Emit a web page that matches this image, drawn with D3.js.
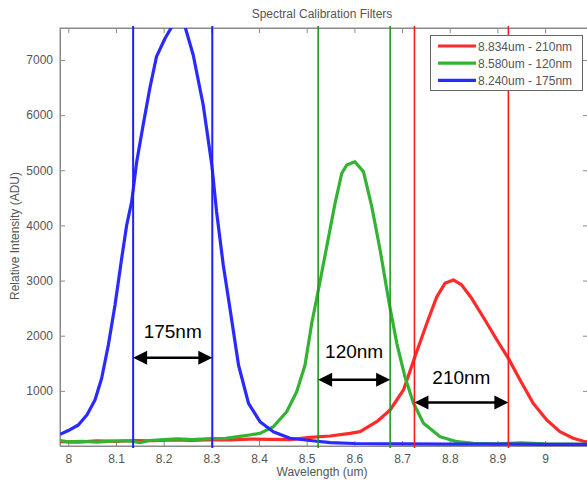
<!DOCTYPE html>
<html>
<head>
<meta charset="utf-8">
<script src="https://cdn.jsdelivr.net/npm/d3@7"></script>
<style>
  html, body { margin: 0; padding: 0; background: #fff; }
  svg { display: block; font-family: Arial, "Liberation Sans", sans-serif; }
</style>
</head>
<body>
<svg id="chart" width="587" height="480"></svg>
<script>
// ---------- data ----------
const title = "Spectral Calibration Filters";
const xLabel = "Wavelength (um)";
const yLabel = "Relative Intensity (ADU)";
const xTicks = [8, 8.1, 8.2, 8.3, 8.4, 8.5, 8.6, 8.7, 8.8, 8.9, 9];
const yTicks = [1000, 2000, 3000, 4000, 5000, 6000, 7000];
const xDomain = [7.9826, 9.090];
const yDomain = [0, 7580];

const seriesNames = ["8.834um - 210nm", "8.580um - 120nm", "8.240um - 175nm"];
const bandLabels = ["210nm", "120nm", "175nm"];

const redCurve = [[7.983,80],[8.02,70],[8.06,95],[8.1,85],[8.14,100],[8.18,95],[8.22,110],[8.26,100],[8.30,115],[8.34,110],[8.38,125],[8.42,120],[8.465,115],[8.507,157],[8.549,181],[8.591,230],[8.612,260],[8.647,441],[8.675,653],[8.703,1016],[8.727,1620],[8.752,2225],[8.773,2708],[8.790,2950],[8.8076,3011],[8.825,2920],[8.846,2678],[8.874,2285],[8.899,1922],[8.923,1590],[8.9476,1197],[8.975,774],[9.0036,472],[9.031,260],[9.059,140],[9.084,78],[9.09,70]];
const greenCurve = [[7.983,100],[8.0,75],[8.03,85],[8.06,70],[8.09,90],[8.12,95],[8.14,80],[8.15,60],[8.17,100],[8.2,115],[8.23,130],[8.26,115],[8.3,135],[8.33,140],[8.36,175],[8.38,200],[8.402,230],[8.430,350],[8.458,622],[8.479,985],[8.4965,1469],[8.5106,2225],[8.5245,2829],[8.542,3615],[8.5595,4401],[8.5735,4945],[8.584,5096],[8.601,5156],[8.619,4975],[8.6365,4340],[8.654,3555],[8.673,2588],[8.689,1863],[8.706,1257],[8.724,774],[8.745,412],[8.78,169],[8.815,78],[8.85,50],[8.9,40],[8.95,55],[9.0,40],[9.05,35],[9.09,30]];
const blueCurve = [[7.983,212],[8.0,280],[8.021,381],[8.039,562],[8.056,834],[8.070,1228],[8.084,1832],[8.098,2557],[8.112,3404],[8.1225,4008],[8.133,4431],[8.1435,5156],[8.157,5821],[8.171,6487],[8.185,7061],[8.203,7394],[8.217,7600],[8.23,7650],[8.245,7600],[8.262,7091],[8.283,6184],[8.301,5096],[8.311,4249],[8.325,3283],[8.339,2497],[8.357,1469],[8.378,774],[8.402,441],[8.430,259],[8.465,140],[8.507,100],[8.55,60],[8.6,45],[8.7,40],[8.8,35],[8.9,35],[9.0,30],[9.09,30]];

// band edges (vertical lines) per series: red, green, blue
const redEdges = [8.726, 8.923];
const greenEdges = [8.524, 8.675];
const blueEdges = [8.136, 8.302];
// annotation arrow heights (ADU) and label heights
const arrowLevels = [790, 1200, 1600];
const labelLevels = [1120, 1590, 1960];

// ---------- layout ----------
const svg = d3.select("#chart");
const pL = 60, pR = 588, pT = 28, pB = 446;
const x = d3.scaleLinear().domain(xDomain).range([pL, pR]);
const y = d3.scaleLinear().domain(yDomain).range([pB, pT]);

const axisColor = "#8a8a8a";
const textColor = "#555";
const curveColors = ["#ff2a2a", "#33b333", "#2a2aff"];
const edgeColors = ["#ff1a1a", "#1f9a1f", "#2020ff"];

// title
svg.append("text").attr("x", 322).attr("y", 18).attr("text-anchor", "middle")
  .attr("font-size", 12).attr("fill", textColor).text(title);

// clip
const defs = svg.append("defs");
defs.append("clipPath").attr("id", "plot")
  .append("rect").attr("x", pL).attr("y", pT).attr("width", pR - pL).attr("height", pB - pT);

// axes
const fmtX = d3.format("~g");
const fmtY = d3.format("d");
const gB = svg.append("g").attr("transform", `translate(0,${pB})`)
  .call(d3.axisBottom(x).tickValues(xTicks).tickFormat(fmtX).tickSizeInner(-5).tickSizeOuter(0).tickPadding(8));
const gT = svg.append("g").attr("transform", `translate(0,${pT})`)
  .call(d3.axisTop(x).tickValues(xTicks).tickFormat("").tickSizeInner(-5).tickSizeOuter(0));
const gL = svg.append("g").attr("transform", `translate(${pL},0)`)
  .call(d3.axisLeft(y).tickValues(yTicks).tickFormat(fmtY).tickSizeInner(-5).tickSizeOuter(0).tickPadding(7));
const gR = svg.append("g").attr("transform", `translate(${pR},0)`)
  .call(d3.axisRight(y).tickValues(yTicks).tickFormat("").tickSizeInner(-5).tickSizeOuter(0));
[gB, gT, gL, gR].forEach(g => {
  g.select(".domain").attr("stroke", axisColor);
  g.selectAll(".tick line").attr("stroke", axisColor);
  g.selectAll(".tick text").attr("fill", textColor).attr("font-size", 12)
    .attr("font-family", "Arial, 'Liberation Sans', sans-serif");
});
svg.append("rect").attr("x", pL).attr("y", pT).attr("width", pR - pL).attr("height", pB - pT)
  .attr("fill", "none").attr("stroke", axisColor);

// axis labels
svg.append("text").attr("x", 322).attr("y", 476).attr("text-anchor", "middle")
  .attr("font-size", 12).attr("fill", textColor).text(xLabel);
svg.append("text").attr("transform", "translate(19,236) rotate(-90)").attr("text-anchor", "middle")
  .attr("font-size", 12).attr("fill", textColor).text(yLabel);

// curves
const plot = svg.append("g").attr("clip-path", "url(#plot)");
const line = d3.line().x(d => x(d[0])).y(d => y(d[1]));
const curves = [redCurve, greenCurve, blueCurve];
curves.forEach((c, i) => {
  plot.append("path").datum(c).attr("d", line).attr("fill", "none")
    .attr("stroke", curveColors[i]).attr("stroke-width", 3.2).attr("stroke-linejoin", "round");
});

// vertical band edges
const edges = [redEdges, greenEdges, blueEdges];
edges.forEach((e, i) => {
  e.forEach(v => {
    svg.append("line").attr("x1", x(v)).attr("x2", x(v)).attr("y1", pT - 2).attr("y2", pB + 2)
      .attr("stroke", edgeColors[i]).attr("stroke-width", i === 2 ? 2 : 1.6);
  });
});

// annotation arrows
edges.forEach((e, i) => {
  const ya = y(arrowLevels[i]);
  const x1 = x(e[0]), x2 = x(e[1]);
  const ah = 14, aw = 7;
  svg.append("line").attr("x1", x1 + ah - 1).attr("x2", x2 - ah + 1).attr("y1", ya).attr("y2", ya)
    .attr("stroke", "#000").attr("stroke-width", 2.5);
  svg.append("path").attr("d", `M${x1},${ya} L${x1 + ah},${ya - aw} L${x1 + ah},${ya + aw} Z`).attr("fill", "#000");
  svg.append("path").attr("d", `M${x2},${ya} L${x2 - ah},${ya - aw} L${x2 - ah},${ya + aw} Z`).attr("fill", "#000");
  svg.append("text").attr("x", (x1 + x2) / 2).attr("y", y(labelLevels[i])).attr("text-anchor", "middle")
    .attr("font-size", 19).attr("fill", "#000").text(bandLabels[i]);
});

// legend
const lg = svg.append("g");
lg.append("rect").attr("x", 430.5).attr("y", 35.5).attr("width", 152).attr("height", 55)
  .attr("fill", "#fff").attr("stroke", "#666");
seriesNames.forEach((n, i) => {
  const ly = 46 + i * 17.2;
  lg.append("line").attr("x1", 438).attr("x2", 476).attr("y1", ly).attr("y2", ly)
    .attr("stroke", curveColors[i]).attr("stroke-width", 3.2);
  lg.append("text").attr("x", 478).attr("y", ly + 4.5).attr("font-size", 12).attr("fill", textColor).text(n);
});
</script>
</body>
</html>
